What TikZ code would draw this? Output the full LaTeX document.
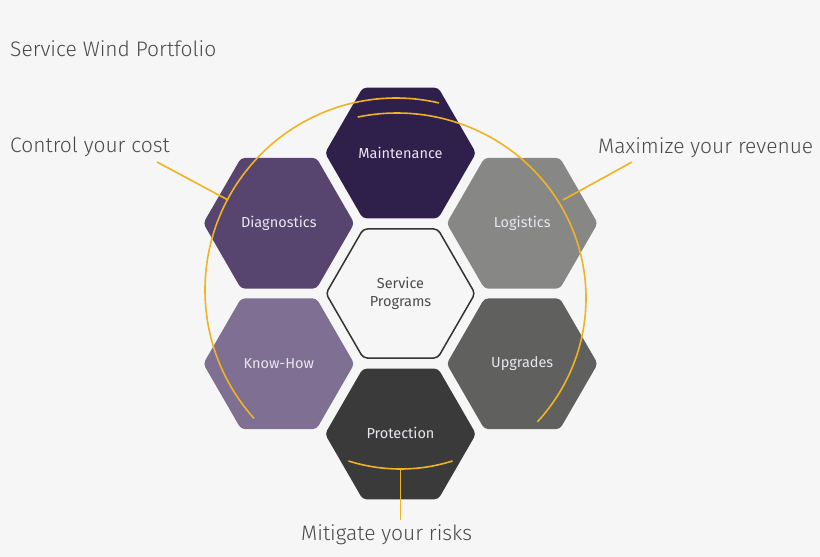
\documentclass[tikz,border=0pt]{standalone}
\usepackage{fontspec}
\setmainfont{Fira Sans Light}
\newfontfamily\hexfont{Fira Sans}
\usepackage{tikz}
\usepackage{xcolor}
\usetikzlibrary{shapes}
\usetikzlibrary{shapes.geometric}

\definecolor{bgcol}{HTML}{F6F6F6}
\definecolor{ringcol}{HTML}{F0B323}
\definecolor{calltext}{HTML}{4A4A4A}
\definecolor{hextext}{HTML}{E9E5EF}
\definecolor{maintcol}{HTML}{2F1F4B}
\definecolor{diagcol}{HTML}{57446F}
\definecolor{knowcol}{HTML}{7F6F92}
\definecolor{logicol}{HTML}{878886}
\definecolor{upgrcol}{HTML}{60605E}
\definecolor{protcol}{HTML}{3A3A3A}

\begin{document}
\begin{tikzpicture}[x=1pt, y=1pt,
	hexa/.style={regular polygon, regular polygon sides=6, minimum size=151pt,
		inner sep=0pt, rounded corners=4pt, text=hextext,
		font=\hexfont\fontsize{14.5}{17}\selectfont},
	ring/.style={draw=ringcol, line width=1.6pt},
	callout/.style={text=calltext, inner sep=0pt, font=\fontsize{21}{24}\selectfont}]


	%background, fixes the size of the page
	\fill[bgcol] (0,0) rectangle (820,-557);

	%hexagons
	\node[hexa, draw=black!80, line width=1.5pt, fill=bgcol, text=black!70, align=center,
		minimum size=149pt, font=\hexfont\fontsize{14.5}{17.5}\selectfont] (prog) at (400.5,-293.5) {Service\\Programs};
	\node[hexa, fill=maintcol] (maint) at (400.5,-153) {Maintenance};
	\node[hexa, fill=diagcol] (diag) at (278.8,-223.25) {Diagnostics};
	\node[hexa, fill=logicol] (logi) at (522.2,-223.25) {Logistics};
	\node[hexa, fill=knowcol] (know) at (278.8,-363.75) {Know-How};
	\node[hexa, fill=upgrcol] (upgr) at (522.2,-363.75) {Upgrades};
	\node[hexa, fill=protcol] (prot) at (400.5,-434) {\raisebox{3pt}{Protection}};


	% ring, two open halves overlapping at the top
	% left half
	\draw[ring] (396,-290) ++(222:191 and 192) arc[start angle=222, end angle=77, x radius=191, y radius=192];
	% right half
	\draw[ring] (397,-298) ++(-42:189 and 185) arc[start angle=-42, end angle=102, x radius=189, y radius=185];
	% bracket under protection
	\draw[ring] (400.5,-296) ++(-107.5:173) arc[start angle=-107.5, end angle=-72.5, radius=173];


	% Text nodes
	\node[callout, anchor=base west] (title) at (10,-56) {Service Wind Portfolio};
	\node[callout, anchor=base west] (cost) at (10,-152) {Control your cost};
	\node[callout, anchor=base west] (revenue) at (598,-153) {Maximize your revenue};
	\node[callout, anchor=base west] (risk) at (301,-540) {Mitigate your risks};

	% callout lines
	\coordinate (costend) at (157,-162);
	\coordinate (costring) at (228,-200);
	\coordinate (revend) at (632,-162);
	\coordinate (revring) at (563,-200);
	\coordinate (riskbrk) at (400.5,-469);
	\coordinate (riskend) at (400.5,-520);
	\draw[ring] (costend) -- (costring);
	\draw[ring] (revend) -- (revring);
	\draw[ring] (riskbrk) -- (riskend);
\end{tikzpicture}
\end{document}
